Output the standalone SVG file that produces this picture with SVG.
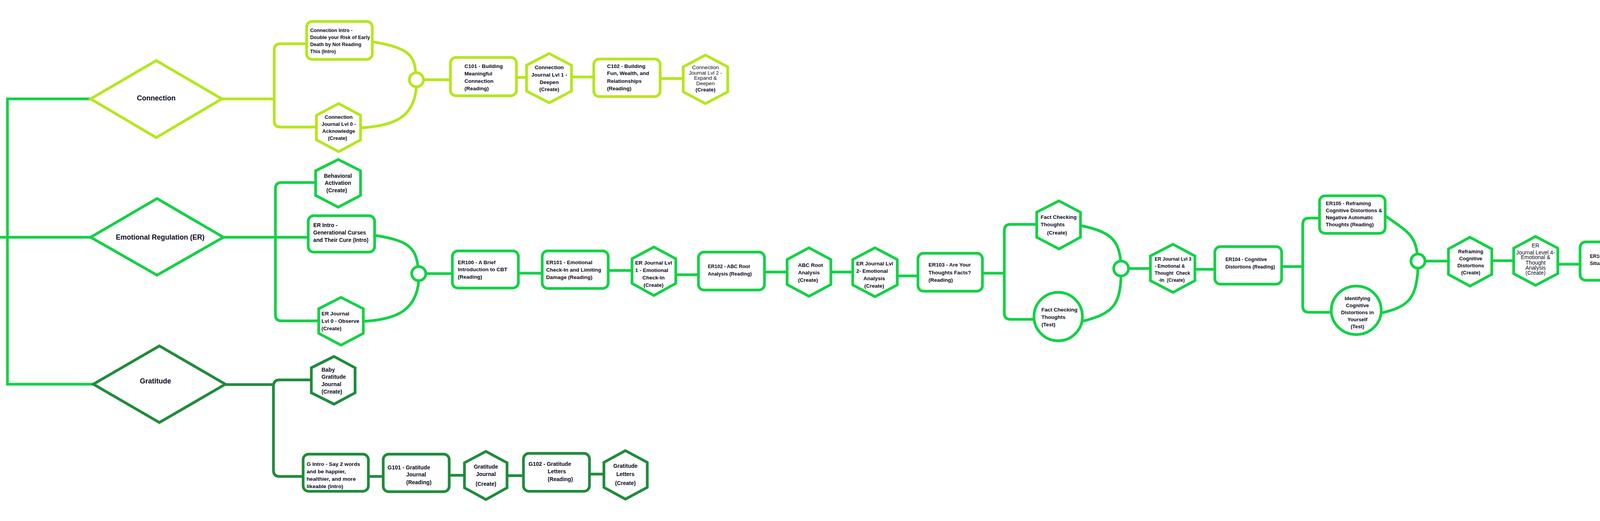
<svg xmlns="http://www.w3.org/2000/svg" width="4658" height="1333" viewBox="0 0 4658 1333">
<style>
.n{fill:#fff;stroke-width:7;stroke-linejoin:miter}
.c{stroke:#b5e61d}
.e{stroke:#13d146}
.g{stroke:#1f8b3c}
.l{fill:none;stroke-width:7}
.j{fill:#fff;stroke-width:7}
.t{font-family:"Liberation Sans",Arial,sans-serif;font-weight:bold;font-size:13.5px;fill:#0c0c1e}
.r{font-weight:normal}
.m{text-anchor:middle}
.d{font-size:18px}
</style>
<rect width="4658" height="1333" fill="#fff"/>
<g id="connectors">
  <g class="l e">
    <path d="M232,253 H19 V983 H239"/>
    <path d="M0,607 H232"/>
    <path d="M572,607 H789"/>
    <path d="M808,467 H721 Q705,467 705,483 V805 Q705,821 721,821 H816"/>
    <path d="M959,602 C1040,615 1064,630 1070,682"/>
    <path d="M930,822 C1020,818 1066,790 1072,718"/>
    <path d="M1090,700 H1158"/>
    <path d="M1327,699 H1388"/>
    <path d="M1557,692 H1618"/>
    <path d="M1730,703 H1788"/>
    <path d="M1957,696 H2015"/>
    <path d="M2127,696 H2183"/>
    <path d="M2297,706 H2350"/>
    <path d="M2515,699 H2571"/>
    <path d="M2654,574 H2587 Q2571,574 2571,590 V801 Q2571,817 2587,817 H2647"/>
    <path d="M2766,577 C2840,592 2864,612 2869,669"/>
    <path d="M2771,822 C2850,802 2867,780 2870,705"/>
    <path d="M2888,687 H2945"/>
    <path d="M3059,689 H3110"/>
    <path d="M3281,682 H3335"/>
    <path d="M3378,558 H3351 Q3335,558 3335,574 V783 Q3335,799 3351,799 H3408"/>
    <path d="M3546,552 C3600,590 3624,602 3628,650"/>
    <path d="M3536,801 C3600,785 3626,770 3630,686"/>
    <path d="M3648,668 H3708"/>
    <path d="M3819,667 H3875"/>
    <path d="M3988,676 H4045"/>
    <path d="M4215,670 H4275"/>
    <path d="M4388,670 H4445"/>
  </g>
  <g class="l c">
    <path d="M568,253 H702"/>
    <path d="M785,112 H718 Q702,112 702,128 V309 Q702,325 718,325 H810"/>
    <path d="M953,107 C1040,120 1062,140 1064,186"/>
    <path d="M924,327 C1010,322 1060,300 1066,222"/>
    <path d="M1085,204 H1153"/>
    <path d="M1322,198 H1348"/>
    <path d="M1463,197 H1520"/>
    <path d="M1690,201 H1749"/>
  </g>
  <g class="l g">
    <path d="M577,984 H700"/>
    <path d="M797,972 H716 Q700,972 700,988 V1203 Q700,1219 716,1219 H776"/>
    <path d="M943,1219 H981"/>
    <path d="M1150,1216 H1189"/>
    <path d="M1298,1217 H1340"/>
    <path d="M1509,1213 H1546"/>
  </g>
  <circle class="j c" cx="1066" cy="204" r="18"/>
  <circle class="j e" cx="1072" cy="700" r="18"/>
  <circle class="j e" cx="2870" cy="687" r="19"/>
  <circle class="j e" cx="3630" cy="668" r="18"/>
</g>

<!-- Connection -->
<g id="connection">
  <polygon class="n c" points="232,253 400,155 568,253 400,352"/>
  <text class="t d m" x="400" y="257">Connection</text>
</g>
<g id="c-intro">
  <rect class="n c" x="785" y="55" width="168" height="97" rx="14"/>
  <text class="t" style="font-size:12.6px"><tspan x="794" y="82">Connection Intro -</tspan><tspan x="794" y="100">Double your Risk of Early</tspan><tspan x="794" y="118">Death by Not Reading</tspan><tspan x="794" y="136">This (Intro)</tspan></text>
</g>
<g id="c-journal-0">
  <polygon class="n c" points="867,265 923,295 923,358 867,388 810,358 810,295"/>
  <text class="t m" style="font-size:13px"><tspan x="867" y="304">Connection</tspan><tspan x="867" y="322">Journal Lvl 0 -</tspan><tspan x="867" y="340">Acknowledge</tspan><tspan x="864" y="358">(Create)</tspan></text>
</g>
<g id="c101">
  <rect class="n c" x="1153" y="147" width="169" height="98" rx="14"/>
  <text class="t"><tspan x="1189" y="174">C101 - Building</tspan><tspan x="1189" y="193">Meaningful</tspan><tspan x="1189" y="212">Connection</tspan><tspan x="1189" y="231">(Reading)</tspan></text>
</g>
<g id="c-journal-1">
  <polygon class="n c" points="1406,137 1463,167 1463,233 1406,263 1348,233 1348,167"/>
  <text class="t m"><tspan x="1406" y="177">Connection</tspan><tspan x="1406" y="196">Journal Lvl 1 -</tspan><tspan x="1406" y="215">Deepen</tspan><tspan x="1406" y="233">(Create)</tspan></text>
</g>
<g id="c102">
  <rect class="n c" x="1520" y="151" width="170" height="96" rx="14"/>
  <text class="t"><tspan x="1554" y="174">C102 - Building</tspan><tspan x="1554" y="192">Fun, Wealth, and</tspan><tspan x="1554" y="212">Relationships</tspan><tspan x="1554" y="231">(Reading)</tspan></text>
</g>
<g id="c-journal-2">
  <polygon class="n c" points="1806,141 1863,171 1863,235 1806,265 1749,235 1749,171"/>
  <text class="t m"><tspan class="r" x="1806" y="177">Connection</tspan><tspan class="r" x="1806" y="191">Journal Lvl 2 -</tspan><tspan class="r" x="1806" y="204">Expand &amp;</tspan><tspan class="r" x="1806" y="218">Deepen</tspan><tspan x="1806" y="234">(Create)</tspan></text>
</g>

<!-- Emotional Regulation -->
<g id="emotional-regulation">
  <polygon class="n e" points="232,607 402,508 572,607 402,704"/>
  <text class="t d m" x="410" y="613">Emotional Regulation (ER)</text>
</g>
<g id="behavioral-activation">
  <polygon class="n e" points="866,408 923,437 923,500 866,530 808,500 808,437"/>
  <text class="t m" style="font-size:14px"><tspan x="865" y="455">Behavioral</tspan><tspan x="865" y="473">Activation</tspan><tspan x="862" y="492">(Create)</tspan></text>
</g>
<g id="er-intro">
  <rect class="n e" x="789" y="552" width="170" height="93" rx="14"/>
  <text class="t" style="font-size:13.8px"><tspan x="802" y="581">ER Intro -</tspan><tspan x="802" y="600">Generational Curses</tspan><tspan x="802" y="619">and Their Cure (Intro)</tspan></text>
</g>
<g id="er-journal-0">
  <polygon class="n e" points="873,761 930,790 930,853 873,883 816,853 816,790"/>
  <text class="t"><tspan x="823" y="807">ER Journal</tspan><tspan x="823" y="826">Lvl 0 - Observe</tspan><tspan x="823" y="845">(Create)</tspan></text>
</g>
<g id="er100">
  <rect class="n e" x="1158" y="642" width="169" height="95" rx="14"/>
  <text class="t"><tspan x="1172" y="676">ER100 - A Brief</tspan><tspan x="1172" y="694">Introduction to CBT</tspan><tspan x="1172" y="713">(Reading)</tspan></text>
</g>
<g id="er101">
  <rect class="n e" x="1388" y="642" width="169" height="96" rx="14"/>
  <text class="t"><tspan x="1398" y="676">ER101 - Emotional</tspan><tspan x="1398" y="695">Check-In and Limiting</tspan><tspan x="1398" y="714">Damage (Reading)</tspan></text>
</g>
<g id="er-journal-1">
  <polygon class="n e" points="1674,632 1730,662 1730,725 1674,756 1618,725 1618,662"/>
  <text class="t"><tspan x="1626" y="677">ER Journal Lvl</tspan><tspan x="1626" y="696">1 - Emotional</tspan><tspan x="1673" y="715" text-anchor="middle">Check-In</tspan><tspan x="1673" y="734" text-anchor="middle">(Create)</tspan></text>
</g>
<g id="er102">
  <rect class="n e" x="1788" y="645" width="169" height="97" rx="14"/>
  <text class="t" style="font-size:12.5px"><tspan x="1812" y="686">ER102 - ABC Root</tspan><tspan x="1812" y="705">Analysis (Reading)</tspan></text>
</g>
<g id="abc-root-analysis">
  <polygon class="n e" points="2071,634 2127,664 2127,728 2071,758 2015,728 2015,664"/>
  <text class="t"><tspan x="2043" y="683">ABC Root</tspan><tspan x="2043" y="702">Analysis</tspan><tspan x="2043" y="721">(Create)</tspan></text>
</g>
<g id="er-journal-2">
  <polygon class="n e" points="2240,634 2297,664 2297,729 2240,759 2183,729 2183,664"/>
  <text class="t"><tspan x="2192" y="679">ER Journal Lvl</tspan><tspan x="2192" y="698">2- Emotional</tspan><tspan x="2238" y="717" text-anchor="middle">Analysis</tspan><tspan x="2238" y="736" text-anchor="middle">(Create)</tspan></text>
</g>
<g id="er103">
  <rect class="n e" x="2350" y="648" width="165" height="97" rx="14"/>
  <text class="t"><tspan x="2377" y="682">ER103 - Are Your</tspan><tspan x="2377" y="702">Thoughts Facts?</tspan><tspan x="2377" y="721">(Reading)</tspan></text>
</g>
<g id="fact-checking-create">
  <polygon class="n e" points="2711,514 2766,543 2766,607 2711,637 2654,607 2654,543"/>
  <text class="t"><tspan x="2664" y="560">Fact Checking</tspan><tspan x="2664" y="579">Thoughts</tspan><tspan x="2706" y="600" text-anchor="middle">(Create)</tspan></text>
</g>
<g id="fact-checking-test">
  <circle class="n e" cx="2709" cy="810" r="62"/>
  <text class="t"><tspan x="2666" y="797">Fact Checking</tspan><tspan x="2666" y="816">Thoughts</tspan><tspan x="2666" y="835">(Test)</tspan></text>
</g>
<g id="er-journal-3">
  <polygon class="n e" points="3003,625 3059,655 3059,718 3003,748 2945,718 2945,655"/>
  <text class="t" style="font-size:12px"><tspan x="2956" y="667">ER Journal Lvl 3</tspan><tspan x="2956" y="685">- Emotional &amp;</tspan><tspan x="2956" y="703" xml:space="preserve">Thought  Check</tspan><tspan x="2966" y="721" xml:space="preserve">-In  (Create)</tspan></text>
</g>
<g id="er104">
  <rect class="n e" x="3110" y="631" width="171" height="96" rx="14"/>
  <text class="t" style="font-size:12.5px"><tspan x="3137" y="668">ER104 - Cognitive</tspan><tspan x="3137" y="687">Distortions (Reading)</tspan></text>
</g>
<g id="er105">
  <rect class="n e" x="3378" y="501" width="168" height="96" rx="14"/>
  <text class="t" style="font-size:13px"><tspan x="3394" y="525">ER105 - Reframing</tspan><tspan x="3394" y="543">Cognitive Distortions &amp;</tspan><tspan x="3394" y="561">Negative Automatic</tspan><tspan x="3394" y="579">Thoughts (Reading)</tspan></text>
</g>
<g id="identifying-distortions">
  <ellipse class="n e" cx="3472" cy="794" rx="64" ry="62"/>
  <text class="t m" style="font-size:13px"><tspan x="3475" y="768">Identifying</tspan><tspan x="3475" y="786">Cognitive</tspan><tspan x="3475" y="804">Distortions in</tspan><tspan x="3475" y="822">Yourself</tspan><tspan x="3475" y="840">(Test)</tspan></text>
</g>
<g id="reframing-create">
  <polygon class="n e" points="3763,607 3819,637 3819,702 3763,732 3708,702 3708,637"/>
  <text class="t m" style="font-size:13px"><tspan x="3765" y="648">Reframing</tspan><tspan x="3765" y="666">Cognitive</tspan><tspan x="3765" y="684">Distortions</tspan><tspan x="3765" y="702">(Create)</tspan></text>
</g>
<g id="er-journal-4">
  <polygon class="n e" points="3931,605 3988,635 3988,700 3931,730 3875,700 3875,635"/>
  <text class="t r m" style="font-size:14px"><tspan x="3931" y="633">ER</tspan><tspan x="3931" y="651">Journal Level 4-</tspan><tspan x="3931" y="663">Emotional &amp;</tspan><tspan x="3931" y="677">Thought</tspan><tspan x="3931" y="690">Analysis</tspan><tspan x="3931" y="703">(Create)</tspan></text>
</g>
<g id="er106">
  <rect class="n e" x="4045" y="619" width="170" height="98" rx="14"/>
  <text class="t" style="font-size:12.5px"><tspan x="4070" y="660">ER106 - Resolve the</tspan><tspan x="4070" y="678">Situation (Reading)</tspan></text>
</g>
<g id="resolve-create">
  <polygon class="n e" points="4332,609 4388,639 4388,703 4332,733 4275,703 4275,639"/>
  <text class="t m" style="font-size:13px"><tspan x="4332" y="657">Resolve the</tspan><tspan x="4332" y="675">Situation</tspan><tspan x="4332" y="693">(Create)</tspan></text>
</g>
<g id="er-journal-5">
  <polygon class="n e" points="4503,609 4560,639 4560,702 4503,732 4445,702 4445,639"/>
  <text class="t m" style="font-size:13.5px"><tspan class="r" x="4503" y="638">ER</tspan><tspan class="r" x="4503" y="652">Journal Level 5 -</tspan><tspan class="r" x="4503" y="664">Thought &amp;</tspan><tspan class="r" x="4503" y="678">Behavior</tspan><tspan class="r" x="4503" y="691">Alteration</tspan><tspan x="4503" y="707">(Create)</tspan></text>
</g>

<!-- Gratitude -->
<g id="gratitude">
  <polygon class="n g" points="239,983 408,885 577,983 408,1081"/>
  <text class="t d m" x="398" y="981">Gratitude</text>
</g>
<g id="baby-gratitude-journal">
  <polygon class="n g" points="855,912 909,941 909,1005 855,1034 797,1005 797,941"/>
  <text class="t" style="font-size:14px"><tspan x="823" y="951">Baby</tspan><tspan x="823" y="969">Gratitude</tspan><tspan x="823" y="988">Journal</tspan><tspan x="823" y="1007">(Create)</tspan></text>
</g>
<g id="g-intro">
  <rect class="n g" x="776" y="1162" width="167" height="95" rx="14"/>
  <text class="t" style="font-size:13.7px"><tspan x="785" y="1192">G Intro - Say 2 words</tspan><tspan x="785" y="1211">and be happier,</tspan><tspan x="785" y="1230">healthier, and more</tspan><tspan x="785" y="1249">likeable (Intro)</tspan></text>
</g>
<g id="g101">
  <rect class="n g" x="981" y="1162" width="169" height="96" rx="14"/>
  <text class="t" style="font-size:14px"><tspan x="992" y="1201">G101 - Gratitude</tspan><tspan x="1040" y="1219">Journal</tspan><tspan x="1040" y="1239">(Reading)</tspan></text>
</g>
<g id="gratitude-journal">
  <polygon class="n g" points="1244,1155 1298,1184 1298,1248 1244,1278 1189,1248 1189,1184"/>
  <text class="t m" style="font-size:14px"><tspan x="1244" y="1199">Gratitude</tspan><tspan x="1244" y="1218">Journal</tspan><tspan x="1244" y="1243">(Create)</tspan></text>
</g>
<g id="g102">
  <rect class="n g" x="1340" y="1160" width="169" height="97" rx="14"/>
  <text class="t" style="font-size:14px"><tspan x="1353" y="1192">G102 - Gratitude</tspan><tspan x="1402" y="1211">Letters</tspan><tspan x="1402" y="1231">(Reading)</tspan></text>
</g>
<g id="gratitude-letters">
  <polygon class="n g" points="1601,1153 1657,1183 1657,1247 1601,1277 1546,1247 1546,1183"/>
  <text class="t m" style="font-size:14px"><tspan x="1601" y="1197">Gratitude</tspan><tspan x="1601" y="1218">Letters</tspan><tspan x="1601" y="1241">(Create)</tspan></text>
</g>
</svg>
